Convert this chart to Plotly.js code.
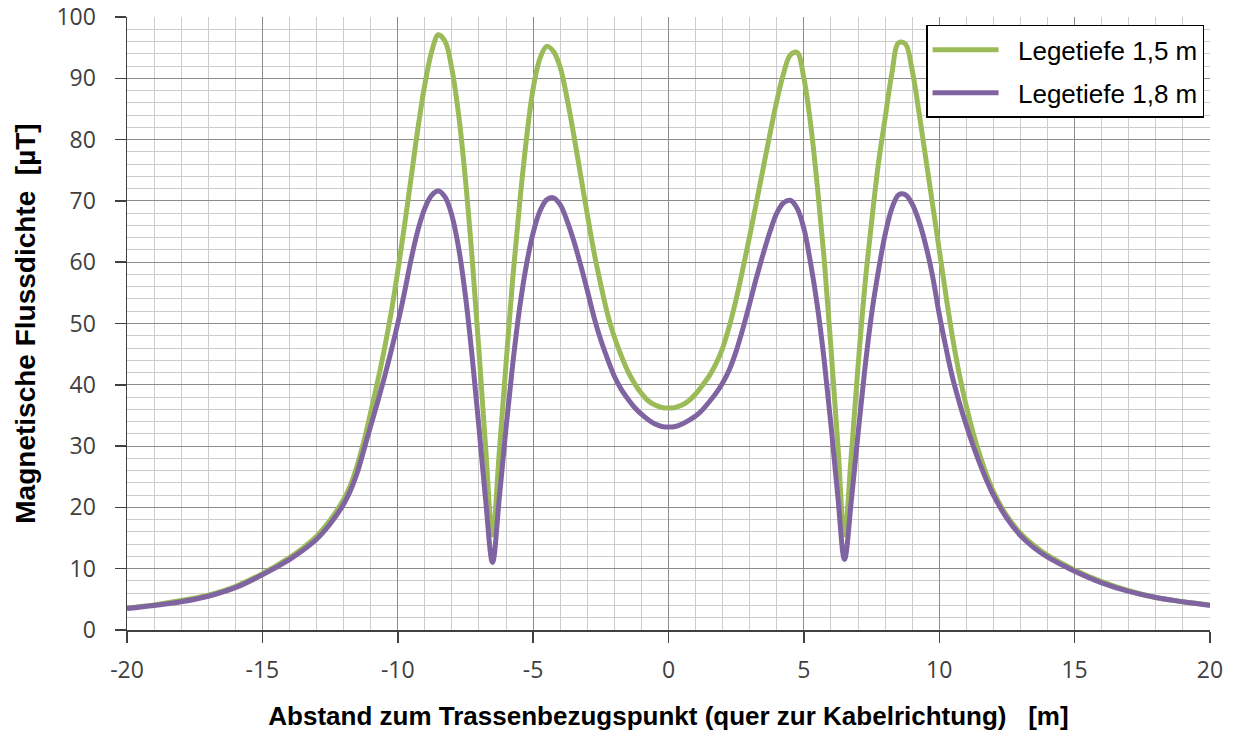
<!DOCTYPE html>
<html>
<head>
<meta charset="utf-8">
<script src="https://cdn.plot.ly/plotly-3.0.1.min.js"></script>
<style>html,body{margin:0;padding:0;background:#fff;}#chart{width:1233px;height:733px;}</style>
</head>
<body>
<div id="chart"></div>
<script>
// Distance from route reference point [m]
const distance = [-20,-19,-18,-17,-16,-15,-14,-13.5,-13,-12.5,-12,
  -11.75,-11.5,-11.25,-11,-10.75,-10.5,-10.25,-10,-9.75,-9.5,-9.25,-9,-8.75,-8.5,-8.25,-8,
  -7.75,-7.5,-7.25,-7,-6.75,-6.5,-6.25,-6,-5.75,-5.5,-5.25,-5,-4.75,-4.5,-4.25,-4,
  -3.75,-3.5,-3.25,-3,-2.75,-2.5,-2.25,-2,-1.75,-1.5,-1.25,-1,-0.75,-0.5,-0.25,0,
  0.25,0.5,0.75,1,1.25,1.5,1.75,2,2.25,2.5,2.75,3,3.25,3.5,3.75,4,
  4.25,4.5,4.75,5,5.25,5.5,5.75,6,6.25,6.5,6.75,7,7.25,7.5,7.75,8,
  8.25,8.5,8.75,9,9.25,9.5,9.75,10,10.25,10.5,10.75,11,11.25,11.5,11.75,
  12,12.5,13,13.5,14,15,16,17,18,19,20];

// Legetiefe 1,5 m  [µT]
const depth15 = [3.6,4.1,4.8,5.7,7.1,9.2,11.8,13.4,15.3,17.9,21.3,
  23.6,26.8,30.8,35.5,40.4,45.7,51.6,58.5,66,74,82,89,94.3,97.1,96,91.5,
  84,73.5,60.5,45.5,29.5,15.5,29,43.5,57.5,69.5,80,88.3,93.2,95.2,94.4,91.8,
  86.8,80.8,74.3,67.8,61.6,56.3,51.5,47.8,44.8,42.2,40.2,38.6,37.4,36.7,36.3,36.2,
  36.3,36.7,37.4,38.5,39.9,41.4,43.4,46,49.6,54,59,64.3,69.8,75.4,81,86.3,
  90.8,93.8,94.2,90,82.5,72.3,60.5,46,30.5,15.5,28.5,43,56,66.5,76,83.5,
  90.8,95.8,95.6,91.3,84.5,77,69.5,62,54.5,47.5,41.5,36.5,32.2,28.5,25.3,
  22.6,18.6,15.8,13.8,12.2,9.8,7.9,6.4,5.3,4.6,4.1];

// Legetiefe 1,8 m  [µT]
const depth18 = [3.5,4.0,4.6,5.5,6.9,9.0,11.5,13.0,14.8,17.3,20.5,
  22.7,25.6,29.4,33.3,37.1,41.1,45.4,50,55.1,60.6,65.3,68.8,70.9,71.6,70.6,67.6,
  62.3,54.5,44.5,33,21,11,21.5,33,43.5,52.5,59.5,64.8,68.3,70.2,70.5,69.4,
  66.8,63.5,59.6,55.4,51,47.3,44.2,41.4,39.3,37.7,36.3,35.2,34.3,33.6,33.2,33.1,
  33.2,33.6,34.2,34.9,35.9,37.2,38.6,40.3,42.5,45.5,49.2,53.3,57.5,61.4,65,68,
  69.7,70.1,68.8,65.5,59.8,52.8,44,33.5,22,11.5,21,32,42.5,51.5,58.5,64.5,
  68.8,71,71,69.5,66.7,62.8,57.8,51.5,46,41,37,33.4,30.1,27.1,24.4,
  22,18.2,15.4,13.4,11.9,9.6,7.7,6.3,5.3,4.6,4.0];

const seriesNames = ['Legetiefe 1,5 m', 'Legetiefe 1,8 m'];
const xTickVals = [-20, -15, -10, -5, 0, 5, 10, 15, 20];
const xTickText = ['-20', '-15', '-10', '-5', '0', '5', '10', '15', '20'];
const yTickVals = [0, 10, 20, 30, 40, 50, 60, 70, 80, 90, 100];
const xTitle = 'Abstand zum Trassenbezugspunkt (quer zur Kabelrichtung)   [m]';
const yTitle = 'Magnetische Flussdichte  [µT]';

const traces = [
  {x: distance, y: depth15, name: '\u00a0\u00a0' + seriesNames[0], legendgroup: 'a', type: 'scatter', mode: 'lines',
   line: {color: '#9BBB59', width: 5, shape: 'spline', smoothing: 1}},
  {x: distance, y: depth18, name: '\u00a0\u00a0' + seriesNames[1], legendgroup: 'b', type: 'scatter', mode: 'lines',
   line: {color: '#8064A2', width: 5, shape: 'spline', smoothing: 1}}
];

const tickFont = {family: 'Open Sans, sans-serif', size: 23, color: '#404040'};
const titleFont = {family: 'Liberation Sans, Arial, sans-serif', size: 26, color: '#000', weight: 'bold'};

const layout = {
  width: 1233, height: 733,
  margin: {l: 127, r: 23, t: 17, b: 103},
  paper_bgcolor: '#fff', plot_bgcolor: '#fff',
  showlegend: true,
  xaxis: {
    range: [-20, 20], tickmode: 'array', tickvals: xTickVals, ticktext: xTickText,
    ticks: 'outside', ticklen: 11, tickwidth: 1.5, tickcolor: '#404040',
    showline: true, linecolor: '#404040', linewidth: 1.5, zeroline: false,
    showgrid: true, gridcolor: '#8c8c8c', gridwidth: 1,
    minor: {tickmode: 'linear', tick0: 0, dtick: 1, showgrid: true, gridcolor: '#cccccc', gridwidth: 1, ticks: ''},
    tickfont: tickFont, ticklabelstandoff: 8,
    title: {text: xTitle, font: titleFont, standoff: 22}
  },
  yaxis: {
    range: [0, 100], tickmode: 'array', tickvals: yTickVals,
    ticks: 'outside', ticklen: 11, tickwidth: 1.5, tickcolor: '#404040',
    showline: true, linecolor: '#404040', linewidth: 1.5, zeroline: false,
    showgrid: true, gridcolor: '#8c8c8c', gridwidth: 1,
    minor: {tickmode: 'linear', tick0: 0, dtick: 2, showgrid: true, gridcolor: '#cccccc', gridwidth: 1, ticks: ''},
    tickfont: tickFont, ticklabelstandoff: 14,
    title: {text: yTitle, font: Object.assign({}, titleFont, {size: 28}), standoff: 12}
  },
  legend: {
    x: 0.9945, xanchor: 'right', y: 0.987, yanchor: 'top',
    bgcolor: '#fff', bordercolor: '#000', borderwidth: 1.5,
    font: {family: 'Liberation Sans, Arial, sans-serif', size: 26, color: '#000'},
    itemwidth: 66, tracegroupgap: 6
  }
};

Plotly.newPlot('chart', traces, layout, {displayModeBar: false, staticPlot: true});
</script>
</body>
</html>
